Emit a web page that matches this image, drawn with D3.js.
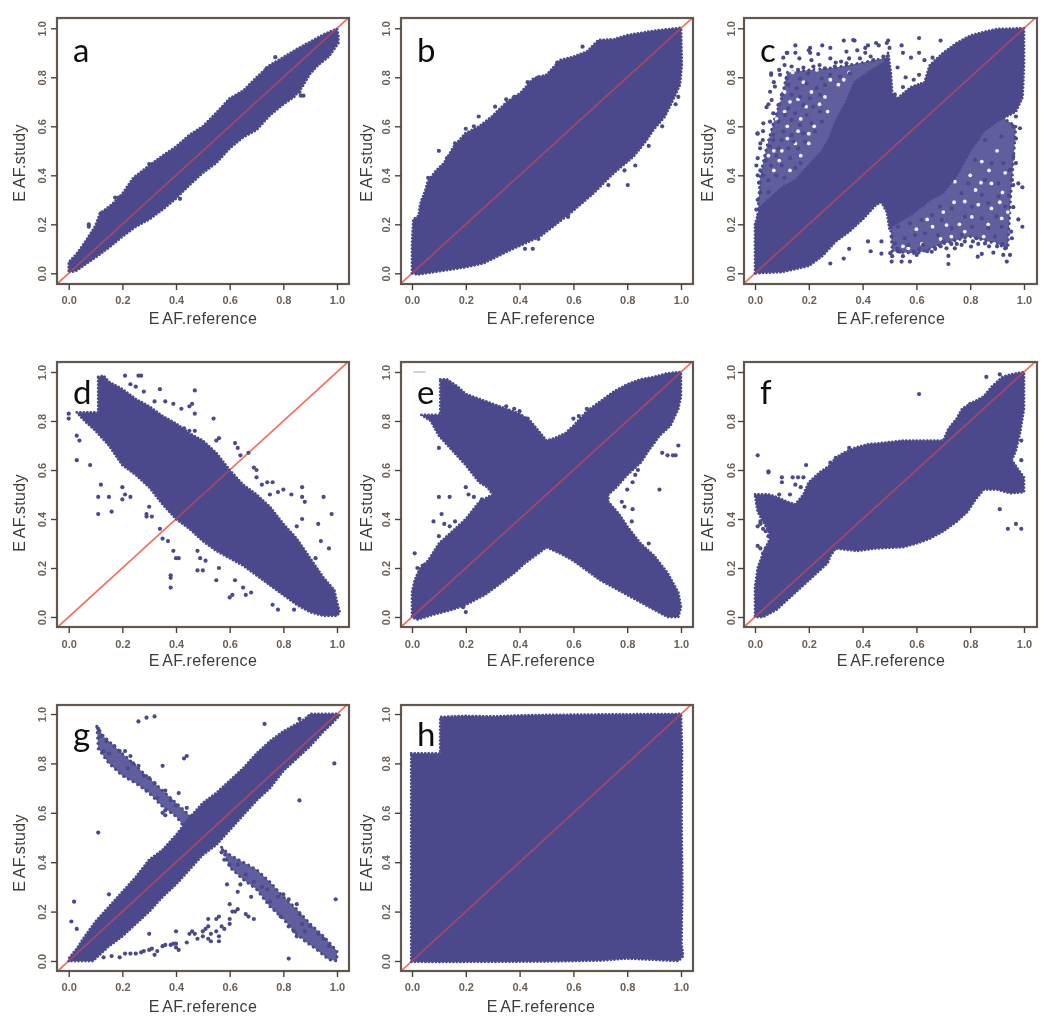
<!DOCTYPE html>
<html><head><meta charset="utf-8">
<script src="https://cdn.jsdelivr.net/npm/d3@7"></script>
<style>html,body{margin:0;padding:0;background:#fff}svg{display:block}</style>
</head><body><svg id="chart" width="1050" height="1031"></svg>
<script>
const tickValues=[0,0.2,0.4,0.6,0.8,1];
const xTitle="EAF.reference", yTitle="EAF.study";

const aOutline=[[0,.01],[0,.045],[.03,.08],[.05,.11],[.08,.16],[.1,.195],[.117,.245],[.16,.28],[.2,.325],[.241,.39],[.3,.44],[.35,.48],[.4,.517],[.45,.565],[.5,.6],[.55,.655],[.6,.714],[.65,.745],[.7,.8],[.75,.85],[.8,.882],[.85,.915],[.9,.945],[.95,.975],[1,.998],[1.005,.97],[1.005,.94],[.97,.885],[.93,.85],[.9,.815],[.87,.76],[.84,.72],[.8,.69],[.75,.645],[.7,.585],[.65,.555],[.6,.51],[.55,.45],[.5,.41],[.45,.36],[.4,.305],[.35,.26],[.3,.22],[.25,.19],[.2,.15],[.15,.105],[.1,.065],[.06,.035],[.03,.012],[.01,.005]];
const aPoints=[[.3,.446],[.29,.41],[.173,.309],[.185,.309],[.075,.19],[.075,.2],[.77,.882],[.875,.725],[.865,.725],[.738,.837],[.415,.304],[.86,.74],[.12,.245],[.13,.24]];

const bOutline=[[0,0],[0,.12],[.005,.22],[.025,.235],[.03,.28],[.05,.34],[.058,.374],[.09,.42],[.118,.449],[.155,.517],[.198,.571],[.25,.6],[.297,.64],[.353,.7],[.402,.735],[.452,.796],[.5,.81],[.55,.87],[.6,.884],[.65,.905],[.693,.952],[.75,.955],[.8,.972],[.9,.99],[1,1.002],[1.003,.85],[.996,.769],[.97,.707],[.94,.64],[.897,.585],[.87,.54],[.823,.476],[.749,.408],[.675,.327],[.588,.245],[.476,.15],[.365,.095],[.266,.041],[.2,.025],[.1,.008],[.02,-.005]];
const bPoints=[[.1,.5],[.802,.36],[.449,.1],[.42,.1],[.634,.925],[.248,.64],[.309,.68],[.99,.72],[.98,.69],[.93,.6],[.88,.52],[.83,.44],[.79,.42],[.73,.36],[.47,.14],[.58,.23],[.35,.71],[.38,.72],[.43,.78],[.47,.8],[.54,.86],[.13,.47],[.16,.53],[.04,.3],[.06,.39],[.2,.59],[.23,.6]];

const cCore=[[0,0],[0,.2],[.02,.27],[.06,.31],[.1,.35],[.15,.38],[.2,.44],[.25,.5],[.28,.56],[.3,.62],[.34,.7],[.37,.78],[.42,.82],[.48,.86],[.495,.9],[.505,.82],[.51,.73],[.53,.715],[.58,.76],[.63,.78],[.65,.85],[.7,.9],[.75,.94],[.8,.97],[.85,.985],[.9,.997],[1,1],[1,.85],[.995,.72],[.97,.66],[.9,.62],[.85,.58],[.8,.5],[.75,.4],[.7,.33],[.65,.3],[.58,.24],[.52,.2],[.5,.18],[.49,.25],[.47,.29],[.45,.28],[.4,.22],[.35,.17],[.3,.13],[.25,.07],[.2,.03],[.1,.005]];
const cSpeckleLeft=[[.01,.24],[.02,.4],[.04,.5],[.07,.62],[.1,.72],[.12,.82],[.2,.83],[.3,.84],[.4,.86],[.49,.88],[.5,.7],[.3,.5],[.1,.25]];
const cSpeckleRight=[[.51,.09],[.6,.08],[.7,.12],[.8,.15],[.9,.12],[.94,.1],[.95,.3],[.97,.6],[.9,.65],[.6,.3],[.5,.25]];
const cPoints=[[.01,.57],[.06,.81],[.12,.9],[.15,.93],[.15,.9],[.2,.91],[.25,.93],[.28,.92],[.33,.95],[.37,.95],[.42,.93],[.45,.94],[.495,.95],[.5,.92],[.545,.93],[.55,.9],[.58,.88],[.61,.96],[.61,.9],[.69,.95],[.66,.88],[.63,.87],[.53,.84],[.56,.8],[.59,.79],[.61,.81],[.53,.71],[.52,.73],[.55,.76],[.365,.952],[.205,.92],[.49,.94],[.46,.93],[.41,.92],[.38,.91],[.34,.905],[.118,.9],[.205,.9],[.235,.895],[.105,.88],[.165,.877],[.21,.87],[.28,.877],[.32,.864],[.35,.877],[.39,.877],[.43,.885],[.477,.885],[.11,.85],[.136,.844],[.217,.844],[.26,.837],[.297,.844],[.34,.857],[.06,.816],[.093,.81],[.118,.796],[.167,.796],[.198,.816],[.248,.796],[.28,.81],[.316,.803],[.353,.816],[.074,.762],[.124,.769],[.155,.755],[.192,.775],[.229,.755],[.26,.769],[.056,.741],[.1,.728],[.136,.728],[.167,.721],[.204,.714],[.242,.728],[.062,.707],[.043,.678],[.087,.687],[.124,.673],[.18,.687],[.217,.68],[.068,.653],[.112,.646],[.149,.653],[.192,.646],[.242,.66],[.056,.619],[.031,.612],[.087,.619],[.136,.626],[.167,.605],[.21,.612],[.248,.619],[.009,.571],[.068,.565],[.105,.578],[.136,.565],[.18,.571],[.223,.578],[.029,.544],[.068,.544],[.099,.544],[.143,.537],[.186,.537],[.019,.51],[.056,.517],[.087,.51],[.124,.51],[.161,.51],[.01,.47],[.02,.42],[.015,.37],[.04,.46],[.06,.44],[.08,.48],[.1,.44],[.13,.47],[.15,.43],[.17,.45],[.03,.4],[.05,.38],[.08,.4],[.11,.39],[.02,.33],[.05,.33],[.01,.3],[.005,.26],[.01,.4],[.005,.44],[.41,.9],[.44,.87],[.3,.86],[.24,.85],[.18,.84],[.16,.83],[.09,.83],[.07,.78],[.05,.69],[.03,.58],[.02,.53],
[.719,.038],[.936,.048],[.923,.075],[.948,.075],[.886,.084],[.843,.079],[.828,.068],[.803,.109],[.768,.116],[.743,.102],[.712,.102],[.719,.071],[.657,.088],[.576,.048],[.545,.048],[.508,.048],[.503,.082],[.539,.088],[.601,.075],[.625,.116],[.57,.116],[.52,.122],[.979,.367],[.994,.351],[.955,.381],[.944,.316],[.979,.22],[.994,.19],[.952,.17],[.93,.102],[.955,.143],[.985,.592],[.96,.476],[.947,.422],[.781,.531],[.725,.449],[.68,.34],[.625,.279],[.551,.231],[.855,.544],[.916,.558],[.818,.463],[.88,.449],[.923,.449],[.855,.381],[.793,.367],[.905,.367],[.768,.327],[.843,.32],[.905,.313],[.806,.272],[.867,.286],[.93,.272],[.731,.265],[.688,.272],[.657,.238],[.78,.231],[.843,.224],[.898,.231],[.619,.218],[.694,.218],[.576,.204],[.532,.19],[.731,.184],[.806,.19],[.917,.19],[.867,.184],[.632,.163],[.681,.156],[.768,.156],[.824,.143],[.892,.15],[.508,.15],[.557,.143],[.595,.156],[.7,.129],[.855,.122],[.47,.13],[.47,.08],[.43,.09],[.42,.13],[.33,.06],[.35,.1],[.28,.04],[.51,.07],[.53,.1],[.55,.07],[.59,.09],[.61,.1],[.64,.09],[.67,.1],[.69,.11],[.73,.12],[.75,.12],[.78,.13],[.81,.13],[.83,.12],[.87,.11],[.9,.11],[.92,.12],[.96,.27],[.96,.36],[.97,.45],[.97,.55],[.96,.6],[.97,.64]];
const cGaps=[[.09,.77],[.14,.82],[.18,.78],[.23,.83],[.13,.7],[.19,.68],[.26,.72],[.31,.77],[.08,.63],[.12,.6],[.17,.63],[.22,.6],[.1,.5],[.15,.53],[.07,.5],[.2,.53],[.03,.52],[.13,.42],[.27,.66],[.21,.74],[.08,.71],[.11,.74],[.16,.71],[.11,.66],[.16,.58],[.24,.69],[.2,.57],[.12,.55],[.05,.48],[.09,.46],[.07,.42],[.35,.82],[.28,.79],[.33,.79],[.17,.48],[.712,.197],[.879,.265],[.843,.456],[.879,.367],[.82,.34],[.78,.293],[.743,.374],[.917,.224],[.57,.102],[.806,.23],[.66,.19],[.867,.2],[.91,.29],[.76,.2],[.62,.12],[.85,.15],[.89,.12],[.93,.41],[.9,.5],[.83,.28],[.87,.42],[.92,.33],[.94,.25],[.8,.4],[.84,.37],[.74,.29],[.7,.25],[.78,.17],[.64,.22],[.6,.18],[.55,.11],[.69,.14],[.73,.15]];

const dOutline=[[.11,.98],[.13,.985],[.15,.96],[.2,.93],[.25,.89],[.3,.86],[.35,.82],[.4,.79],[.45,.75],[.5,.72],[.55,.67],[.6,.6],[.65,.54],[.7,.5],[.75,.45],[.8,.38],[.85,.32],[.9,.24],[.95,.16],[.99,.11],[1,.06],[1.01,.02],[1,.005],[.95,.005],[.9,.02],[.85,.05],[.8,.09],[.75,.13],[.7,.17],[.65,.21],[.6,.24],[.55,.27],[.5,.31],[.45,.36],[.4,.4],[.35,.46],[.3,.53],[.25,.58],[.2,.62],[.15,.7],[.1,.76],[.06,.8],[.03,.835],[.11,.835]];
const dPoints=[[0,.83],[0,.81],[.03,.74],[.04,.72],[.03,.64],[.08,.62],[.12,.54],[.11,.49],[.15,.49],[.11,.42],[.16,.43],[.2,.53],[.2,.48],[.23,.49],[.21,.5],[.29,.41],[.3,.45],[.29,.42],[.31,.41],[.34,.36],[.35,.32],[.37,.31],[.39,.27],[.4,.24],[.41,.24],[.38,.17],[.38,.16],[.38,.12],[.48,.27],[.49,.24],[.51,.23],[.5,.19],[.48,.19],[.55,.15],[.56,.2],[.6,.08],[.61,.09],[.62,.15],[.65,.12],[.66,.09],[.68,.1],[.76,.05],[.78,.03],[.84,.03],[.21,.985],[.26,.985],[.27,.985],[.34,.93],[.47,.925],[.23,.95],[.25,.94],[.28,.92],[.32,.88],[.36,.88],[.39,.87],[.42,.85],[.45,.86],[.46,.87],[.47,.83],[.54,.81],[.47,.76],[.45,.76],[.43,.77],[.55,.72],[.56,.73],[.62,.71],[.63,.69],[.64,.66],[.67,.67],[.69,.61],[.7,.6],[.7,.57],[.74,.55],[.76,.55],[.78,.51],[.8,.52],[.83,.5],[.87,.53],[.87,.49],[.88,.47],[.95,.49],[.98,.42],[.87,.4],[.93,.38],[.85,.37],[.94,.31],[.97,.28],[.92,.24],[.72,.54],[.75,.5]];

const eOutline=[[.105,.97],[.13,.97],[.17,.94],[.2,.91],[.25,.89],[.3,.87],[.35,.85],[.4,.83],[.44,.8],[.47,.76],[.5,.72],[.53,.73],[.57,.75],[.6,.78],[.65,.84],[.7,.88],[.75,.92],[.8,.95],[.85,.97],[.9,.98],[.95,.995],[1,1],[1,.9],[.99,.85],[.96,.78],[.92,.74],[.88,.68],[.85,.63],[.8,.58],[.76,.53],[.73,.5],[.73,.47],[.77,.42],[.8,.37],[.85,.3],[.9,.25],[.95,.18],[.99,.1],[1,.04],[.99,0],[.95,0],[.9,.03],[.85,.06],[.8,.09],[.75,.12],[.7,.15],[.65,.19],[.6,.23],[.55,.26],[.5,.285],[.47,.26],[.42,.22],[.38,.18],[.32,.13],[.27,.09],[.2,.05],[.15,.03],[.08,.01],[.02,-.01],[0,0],[0,.1],[.01,.15],[.03,.2],[.06,.23],[.1,.3],[.15,.35],[.2,.4],[.25,.47],[.3,.5],[.28,.53],[.25,.55],[.2,.62],[.15,.68],[.1,.74],[.07,.8],[.035,.825],[.105,.825]];
const ePoints=[[.1,.49],[.14,.49],[.2,.53],[.21,.5],[.23,.49],[.26,.48],[.1,.69],[.11,.42],[.12,.38],[.14,.37],[.08,.39],[.16,.39],[.1,.33],[.01,.26],[.02,.2],[.04,.21],[.2,.02],[.19,.04],[.99,.7],[.98,.66],[.95,.66],[.92,.52],[.97,.66],[.93,.67],[.817,.39],[.88,.3],[.84,.6],[.82,.55],[.8,.52],[.78,.47],[.79,.45],[.82,.44],[.83,.58],[.35,.86],[.38,.85],[.4,.84],[.43,.81],[.6,.81],[.62,.82],[.65,.85]];
const eDash=[[.005,1],[.05,1]];

const fOutline=[[0,.5],[.05,.5],[.08,.49],[.12,.47],[.15,.46],[.18,.5],[.2,.55],[.24,.59],[.28,.62],[.3,.65],[.33,.67],[.37,.69],[.42,.705],[.47,.71],[.55,.72],[.65,.72],[.7,.72],[.72,.77],[.75,.81],[.77,.85],[.8,.87],[.85,.9],[.88,.94],[.92,.98],[.95,.99],[1,1],[1,.85],[.985,.75],[.97,.68],[.955,.64],[.98,.6],[1,.57],[1,.51],[.95,.505],[.9,.52],[.85,.52],[.82,.48],[.79,.43],[.75,.39],[.7,.35],[.65,.32],[.6,.3],[.55,.285],[.45,.28],[.38,.27],[.3,.28],[.28,.25],[.27,.22],[.22,.17],[.18,.13],[.13,.08],[.08,.03],[.03,0],[0,0],[0,.12],[.01,.2],[.03,.26],[.06,.33],[.03,.39],[.01,.43],[.005,.46]];
const fPoints=[[.01,.37],[.02,.39],[.03,.36],[.04,.35],[.05,.33],[.01,.29],[.02,.28],[.03,.26],[.04,.28],[.02,.38],[.06,.34],[.01,.66],[.05,.59],[.05,.595],[.1,.57],[.1,.55],[.14,.57],[.16,.57],[.18,.57],[.15,.54],[.17,.53],[.19,.62],[.13,.5],[.09,.5],[.61,.91],[.86,.98],[.91,.99],[.8,.87],[.79,.83],[.97,.72],[.99,.72],[.99,.64],[.94,.65],[.91,.44],[.94,.36],[.97,.38],[.99,.36],[.28,.63],[.35,.69],[.3,.65]];

const gOutline=[[0,0],[0,.01],[.03,.05],[.06,.1],[.1,.16],[.15,.22],[.2,.28],[.25,.34],[.3,.41],[.35,.45],[.4,.51],[.45,.58],[.5,.64],[.55,.68],[.6,.73],[.65,.78],[.7,.84],[.75,.89],[.8,.93],[.85,.96],[.88,.98],[.9,1],[1,1],[1.01,.995],[.98,.96],[.95,.93],[.9,.87],[.85,.82],[.8,.77],[.75,.7],[.7,.65],[.65,.59],[.6,.53],[.55,.47],[.5,.43],[.45,.37],[.4,.31],[.35,.26],[.3,.2],[.25,.15],[.2,.1],[.15,.06],[.12,.03],[.09,0]];
const gArmLeft=[[.105,.95],[.13,.91],[.2,.84],[.25,.79],[.3,.74],[.35,.69],[.4,.64],[.45,.59],[.47,.56],[.44,.53],[.4,.585],[.35,.625],[.3,.68],[.25,.72],[.2,.75],[.15,.8],[.11,.86]];
const gArmRight=[[.57,.46],[.6,.43],[.65,.4],[.7,.37],[.75,.32],[.8,.26],[.85,.21],[.9,.15],[.95,.1],[1,.04],[1,0],[.97,.005],[.92,.05],[.88,.08],[.84,.12],[.8,.17],[.75,.22],[.7,.29],[.65,.33],[.6,.38]];
const gPoints=[[.11,.94],[.12,.91],[.14,.89],[.17,.87],[.19,.85],[.15,.84],[.13,.85],[.21,.85],[.23,.83],[.24,.8],[.26,.79],[.22,.78],[.28,.75],[.3,.74],[.32,.72],[.29,.69],[.33,.66],[.36,.69],[.38,.65],[.41,.68],[.4,.63],[.44,.62],[.45,.57],[.36,.61],[.35,.6],[.36,.59],[.26,.97],[.29,.985],[.32,.99],[.43,.82],[.44,.83],[.35,.79],[.73,.96],[.86,.98],[.99,.8],[.86,.65],[.11,.52],[.02,.24],[.01,.16],[.03,.13],[.995,.25],[.15,.27],[.82,.01],[.13,.015],[.16,.02],[.19,.015],[.21,.03],[.23,.03],[.25,.03],[.27,.035],[.28,.04],[.3,.045],[.31,.05],[.33,.04],[.35,.06],[.36,.065],[.38,.065],[.39,.07],[.4,.07],[.32,.025],[.41,.045],[.44,.075],[.4,.055],[.3,.11],[.4,.12],[.45,.11],[.46,.12],[.47,.11],[.48,.09],[.5,.1],[.5,.12],[.51,.13],[.52,.14],[.53,.11],[.55,.12],[.56,.1],[.52,.17],[.55,.17],[.56,.18],[.57,.14],[.58,.13],[.6,.15],[.6,.17],[.61,.2],[.62,.2],[.63,.21],[.66,.19],[.67,.18],[.69,.17],[.6,.23],[.53,.08],[.52,.09],[.56,.08],[.57,.44],[.58,.41],[.6,.39],[.59,.31],[.63,.39],[.63,.28],[.66,.35],[.69,.32],[.72,.3],[.74,.29],[.75,.24],[.78,.26],[.8,.27],[.82,.25],[.85,.23],[.86,.19],[.82,.14],[.79,.18],[.87,.15],[.9,.14],[.93,.11],[.95,.09],[.97,.06],[.88,.12],[.85,.1],[.68,.26],[.64,.31],[.84,.12]];

const hOutline=[[-.003,.84],[.105,.84],[.105,.988],[.2,.992],[.3,.99],[.4,.994],[.5,.996],[.7,.998],[1,1],[1.004,.85],[1.002,.6],[1.005,.3],[1.002,.07],[1.008,.02],[.99,0],[.9,.005],[.8,.01],[.7,.002],[.5,-.002],[.3,-.003],[.1,-.004],[-.003,-.003]];

const panels=[
 {label:"a",col:0,row:0,outline:aOutline,points:aPoints},
 {label:"b",col:1,row:0,outline:bOutline,points:bPoints},
 {label:"c",col:2,row:0,outline:cCore,points:cPoints,speckle:[cSpeckleLeft,cSpeckleRight],gaps:cGaps},
 {label:"d",col:0,row:1,outline:dOutline,points:dPoints},
 {label:"e",col:1,row:1,outline:eOutline,points:ePoints,dash:eDash},
 {label:"f",col:2,row:1,outline:fOutline,points:fPoints},
 {label:"g",col:0,row:2,outline:gOutline,points:gPoints,speckle:[gArmLeft,gArmRight]},
 {label:"h",col:1,row:2,outline:hOutline,points:[]}
];

const cols=[{f0:57,f1:349,x0:68.7,x1:337,title:203,yTitle:21,yLab:14},
            {f0:401,f1:693,x0:412,x1:681,title:541,yTitle:368,yLab:14},
            {f0:744,f1:1037,x0:755,x1:1024,title:891,yTitle:709,yLab:12}];
const rows=[{f0:18,f1:284,y0:273.3,y1:28.3,title:320,yMid:163,base:62},
            {f0:362,f1:627,y0:617,y1:372,title:662,yMid:513,base:404},
            {f0:705,f1:971,y0:961,y1:714,title:1008,yMid:853,base:746}];
const blue="#4b4a8b", coral="#f2705f", wine="#a5466a", frameCol="#62584f", tickText="#6a5f55";

const svg=d3.select("#chart");
const defs=svg.append("defs");
defs.append("filter").attr("id","soft").attr("x","-5%").attr("y","-5%").attr("width","110%").attr("height","110%")
  .append("feGaussianBlur").attr("stdDeviation",0.65);
const root=svg.append("g").attr("filter","url(#soft)");
root.append("rect").attr("width",1050).attr("height",1031).attr("fill","#fff");

panels.forEach((p,i)=>{
  const c=cols[p.col], r=rows[p.row];
  const x=d3.scaleLinear().domain([0,1]).range([c.x0,c.x1]);
  const y=d3.scaleLinear().domain([0,1]).range([r.y0,r.y1]);
  const line=d3.line().x(d=>x(d[0])).y(d=>y(d[1]));
  const area=pts=>line(pts)+"Z";
  const g=root.append("g");

  const clipF="frame"+i, clipB="blob"+i;
  defs.append("clipPath").attr("id",clipF).append("rect")
    .attr("x",c.f0).attr("y",r.f0).attr("width",c.f1-c.f0).attr("height",r.f1-r.f0);
  defs.append("clipPath").attr("id",clipB).append("path").attr("d",area(p.outline));

  const diag=[[-.1,-.1],[1.1,1.1]];
  const plot=g.append("g").attr("clip-path",`url(#${clipF})`);
  plot.append("path").attr("d",line(diag)).attr("stroke",coral).attr("stroke-width",1.7).attr("fill","none");
  const bumpy=(sel,w,gap)=>sel.attr("stroke",blue).attr("stroke-width",w).attr("stroke-linecap","round")
     .attr("stroke-linejoin","round").attr("stroke-dasharray",`0.1 ${gap}`);
  (p.speckle||[]).forEach(s=>{
    const sp=plot.append("path").attr("d",area(s)).attr("fill","#605f9e");
    bumpy(sp,3,5.3);
  });
  (p.gaps||[]).forEach(d=>plot.append("circle").attr("cx",x(d[0])).attr("cy",y(d[1])).attr("r",1.9).attr("fill","#fff").attr("opacity",.9));
  bumpy(plot.append("path").attr("d",area(p.outline)).attr("fill",blue),2.8,3.4);
  plot.selectAll("circle.pt").data(p.points).join("circle").attr("class","pt")
    .attr("cx",d=>x(d[0])).attr("cy",d=>y(d[1])).attr("r",2.1).attr("fill",blue);
  if(p.dash) plot.append("path").attr("d",line(p.dash)).attr("stroke","#9f9ed0").attr("stroke-width",1).attr("fill","none");
  plot.append("g").attr("clip-path",`url(#${clipB})`).append("path").attr("d",line(diag))
    .attr("stroke",wine).attr("stroke-width",1.7).attr("fill","none");

  g.append("rect").attr("x",c.f0).attr("y",r.f0).attr("width",c.f1-c.f0).attr("height",r.f1-r.f0)
    .attr("fill","none").attr("stroke",frameCol).attr("stroke-width",2.2);

  const fmt=d3.format(".1f");
  const axB=g.append("g").attr("transform",`translate(0,${r.f1})`)
    .call(d3.axisBottom(x).tickValues(tickValues).tickFormat(fmt).tickSize(6).tickPadding(6));
  const axL=g.append("g").attr("transform",`translate(${c.f0},0)`)
    .call(d3.axisLeft(y).tickValues(tickValues).tickFormat(fmt).tickSize(6).tickPadding(0));
  [axB,axL].forEach(a=>{
    a.select(".domain").remove();
    a.selectAll("line").attr("stroke","#4a423b").attr("stroke-width",1.4);
    a.selectAll("text").attr("font-family","Liberation Sans").attr("font-size",11).attr("font-weight","bold").attr("fill",tickText);
  });
  axB.selectAll("text").attr("dy",null).attr("y",null).attr("dominant-baseline","middle")
    .attr("transform",`translate(0,${[300.7,645,987.7][p.row]-r.f1})`);
  axL.selectAll("text").attr("x",null).attr("dy",null).attr("text-anchor","middle").attr("dominant-baseline","middle")
    .attr("transform",`translate(${-c.yLab},0) rotate(-90)`);

  const title=(tx,t)=>{
    t.attr("font-family","Liberation Sans").attr("font-size",16).attr("letter-spacing",.35).attr("fill","#3f3a36").attr("text-anchor","middle").attr("dominant-baseline","middle");
    t.append("tspan").text(tx[0]);
    t.append("tspan").attr("dx",2.5).text(tx.slice(1));
  };
  title(xTitle,g.append("text").attr("x",c.title).attr("y",r.title));
  title(yTitle,g.append("text").attr("transform",`translate(${c.yTitle},${r.yMid}) rotate(-90)`));

  g.append("text").attr("x",c.f0+16).attr("y",r.base).attr("font-family","Lato").attr("font-size",33).attr("fill","#111").text(p.label);
});
</script></body></html>
